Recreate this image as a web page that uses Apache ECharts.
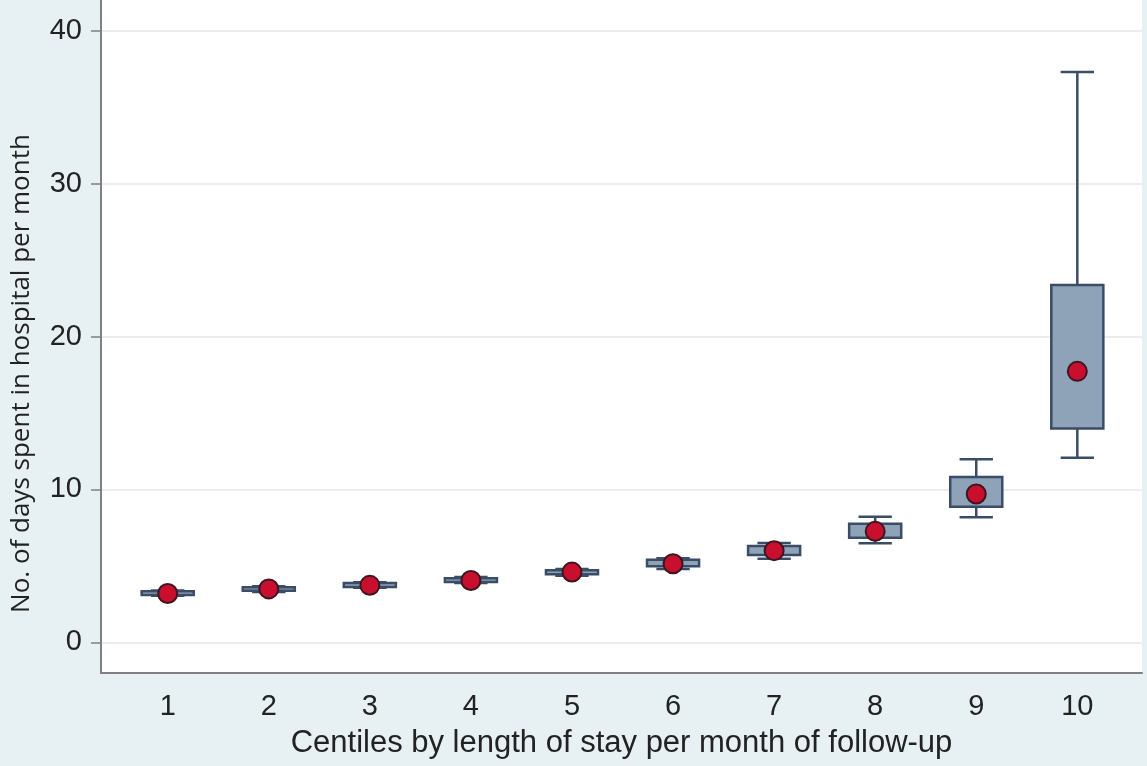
<!DOCTYPE html>
<html><head><meta charset="utf-8">
<script src="https://cdn.jsdelivr.net/npm/echarts@6/dist/echarts.min.js"></script>
<style>html,body{margin:0;padding:0;background:#e7f0f3;} #c{width:1147px;height:766px;}</style>
</head><body><div id="c"></div>
<script>
const categories = [1, 2, 3, 4, 5, 6, 7, 8, 9, 10];
const whiskerLow = [3.05, 3.30, 3.58, 3.88, 4.35, 4.80, 5.47, 6.48, 8.18, 12.08];
const q1 = [3.10, 3.38, 3.62, 3.95, 4.45, 4.98, 5.72, 6.85, 8.87, 13.99];
const q3 = [3.35, 3.60, 3.88, 4.20, 4.72, 5.40, 6.30, 7.75, 10.82, 23.37];
const whiskerHigh = [3.40, 3.67, 3.94, 4.27, 4.80, 5.50, 6.50, 8.22, 11.98, 37.30];
const dots = [3.20, 3.50, 3.73, 4.05, 4.60, 5.14, 6.00, 7.26, 9.70, 17.72];
const yTicks = [0, 10, 20, 30, 40];
const xTitle = 'Centiles by length of stay per month of follow-up';
const yTitle = 'No. of days spent in hospital per month';

const boxData = categories.map((c, i) => [c, whiskerLow[i], q1[i], q3[i], whiskerHigh[i]]);
const dotData = categories.map((c, i) => [c, dots[i]]);

const BOX_W = 0.515, CAP_W = 0.33;
const LINE = '#3b4d66', FILL = '#8ea2b8';

const chart = echarts.init(document.getElementById('c'), null, {renderer: 'canvas'});
chart.setOption({
  backgroundColor: '#e7f0f3',
  animation: false,
  grid: {left: 101, right: 5, top: -3, bottom: 93, show: true, backgroundColor: '#ffffff', borderWidth: 0},
  xAxis: {
    type: 'value', min: 0.34, max: 10.64,
    axisLine: {show: true, onZero: false, lineStyle: {color: '#808080', width: 2}},
    axisTick: {show: false},
    splitLine: {show: false},
    axisLabel: {customValues: categories, fontSize: 29, color: '#222', margin: 19, fontFamily: 'Liberation Sans'},
    name: xTitle, nameLocation: 'middle', nameGap: 55,
    nameTextStyle: {fontSize: 31, color: '#222', fontFamily: 'Liberation Sans'}
  },
  yAxis: {
    type: 'value', min: -2, max: 42,
    axisLine: {show: true, onZero: false, lineStyle: {color: '#808080', width: 2}},
    axisTick: {show: true, customValues: yTicks, length: 10, lineStyle: {color: '#808080', width: 1.5}},
    axisLabel: {customValues: yTicks, fontSize: 29, color: '#222', margin: 19, fontFamily: 'Liberation Sans'},
    splitLine: {show: true, lineStyle: {color: '#ededed', width: 2}},
    name: yTitle, nameLocation: 'middle', nameGap: 66, nameRotate: 90,
    nameTextStyle: {fontSize: 26, color: '#222', fontFamily: 'Open Sans', padding: [0, 74, 0, 0]}
  },
  series: [
    {
      type: 'custom',
      data: boxData,
      encode: {x: 0, y: [1, 2, 3, 4]},
      z: 2,
      renderItem: function (params, api) {
        const x = api.value(0);
        const pLow = api.coord([x, api.value(1)]);
        const pQ1 = api.coord([x, api.value(2)]);
        const pQ3 = api.coord([x, api.value(3)]);
        const pHigh = api.coord([x, api.value(4)]);
        const bw = api.size([BOX_W, 0])[0];
        const cw = api.size([CAP_W, 0])[0];
        const ls = {stroke: LINE, lineWidth: 2.5};
        return {type: 'group', children: [
          {type: 'line', shape: {x1: pLow[0], y1: pLow[1], x2: pQ1[0], y2: pQ1[1]}, style: ls},
          {type: 'line', shape: {x1: pQ3[0], y1: pQ3[1], x2: pHigh[0], y2: pHigh[1]}, style: ls},
          {type: 'line', shape: {x1: pLow[0] - cw / 2, y1: pLow[1], x2: pLow[0] + cw / 2, y2: pLow[1]}, style: ls},
          {type: 'line', shape: {x1: pHigh[0] - cw / 2, y1: pHigh[1], x2: pHigh[0] + cw / 2, y2: pHigh[1]}, style: ls},
          {type: 'rect', shape: {x: pQ3[0] - bw / 2, y: pQ3[1], width: bw, height: pQ1[1] - pQ3[1]},
           style: {fill: FILL, stroke: LINE, lineWidth: 2.5}}
        ]};
      }
    },
    {
      type: 'scatter',
      data: dotData,
      symbol: 'circle',
      symbolSize: 19,
      z: 3,
      itemStyle: {color: '#c8102e', borderColor: '#3e1520', borderWidth: 2, opacity: 1}
    }
  ]
});
</script>
</body></html>
